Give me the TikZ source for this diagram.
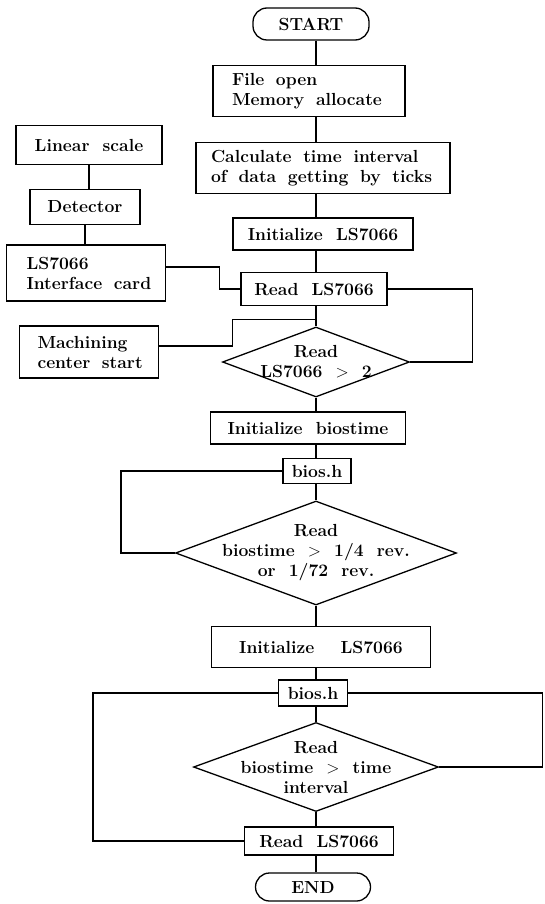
\documentclass[tikz,border=0pt]{standalone}
\usepackage{fontspec}
\usepackage{tikz}
\usetikzlibrary{shapes.geometric}

\begin{document}
\begin{tikzpicture}[x=1pt,y=-1pt]
\tikzstyle{every node}=[font=\fontsize{17.5}{20}\selectfont\bfseries]
\tikzstyle{box}=[rectangle, draw=black, line width=1.3pt, inner sep=2pt]
\tikzstyle{term}=[rectangle, rounded corners=14pt, draw=black, line width=1.3pt]
\tikzstyle{test}=[diamond, draw=black, line width=1.3pt, inner sep=0pt]
\tikzstyle{line}=[line width=1.3pt]
\useasboundingbox (0,0) rectangle (544,904);
\coordinate (spine) at (316,0);

% Main column
\node at (311,24) [term, minimum width=116, minimum height=32] (start) {START};
\node at (309,91) [box, minimum width=192, minimum height=51, inner xsep=17pt, text width=154, align=left] (file) {File~~open\\Memory~~allocate};
\node at (323,168) [box, minimum width=254, minimum height=51, inner xsep=13pt, text width=224, align=left] (calc) {Calculate~~time~~interval\\of~~data~~getting~~by~~ticks};
\node at (323,234) [box, minimum width=180, minimum height=32] (init_1) {Initialize~~LS7066};
\node at (314,289) [box, minimum width=146, minimum height=33] (read_1) {Read~~LS7066};
\node at (316,362) [test, minimum width=187, minimum height=70, label={[align=center]center:Read\\LS7066~~$>$~~2}] (test_1) {};
\node at (308,428) [box, minimum width=195, minimum height=32] (init_bt) {Initialize~~biostime};
\node at (317,471) [box, minimum width=68, minimum height=25] (bios_1) {bios.h};
\node at (316,553) [test, minimum width=281, minimum height=104, label={[align=center]center:Read\\biostime~~$>$~~1/4~~rev.\\or~~1/72~~rev.}] (test_2) {};
\node at (321,647) [box, minimum width=219, minimum height=41] (init_2) {Initialize~~~~LS7066};
\node at (313,693) [box, minimum width=69, minimum height=26] (bios_2) {bios.h};
\node at (316,767) [test, minimum width=245, minimum height=89, label={[align=center]center:Read\\biostime~~$>$~~time\\interval}] (test_3) {};
\node at (319,841) [box, minimum width=149, minimum height=28] (read_2) {Read~~LS7066};
\node at (313,887) [term, minimum width=115, minimum height=28] (end) {END};

% Left column
\node at (89,145) [box, minimum width=146, minimum height=39] (scale) {Linear~~scale};
\node at (85,207) [box, minimum width=110, minimum height=35] (detector) {Detector};
\node at (86,273) [box, minimum width=159, minimum height=56, inner xsep=18pt, text width=119, align=left] (card) {LS7066\\Interface~~card};
\node at (89,352) [box, minimum width=139, minimum height=52, inner xsep=16pt, text width=103, align=left] (machining) {Machining\\center~~start};

% Main column lines
\foreach \a/\b in {start/file, file/calc, calc/init_1, init_1/read_1, read_1/test_1, test_1/init_bt, init_bt/bios_1, bios_1/test_2, test_2/init_2, init_2/bios_2, bios_2/test_3, test_3/read_2, read_2/end}
\draw [line] (\a.south -| spine) -- (\b.north -| spine);

% Left column lines
\draw [line] (scale) -- (scale |- detector.north);
\draw [line] (detector) -- (detector |- card.north);
\draw [line] ([yshift=6]card.east) -- ++(53,0) |- (read_1.west);
\draw [line] ([yshift=6]machining.east) -- ++(73,0) |- ([yshift=7]test_1.north);

% Loops
\draw [line] (test_1.east) -- ++(62,0) |- (read_1.east);
\draw [line] (test_2.west) -- ++(-54,0) |- (bios_1.west);
\draw [line] (test_3.east) -- ++(103,0) |- (bios_2.east);
\draw [line] (read_2.west) -- ++(-151,0) |- (bios_2.west);
\end{tikzpicture}
\end{document}
